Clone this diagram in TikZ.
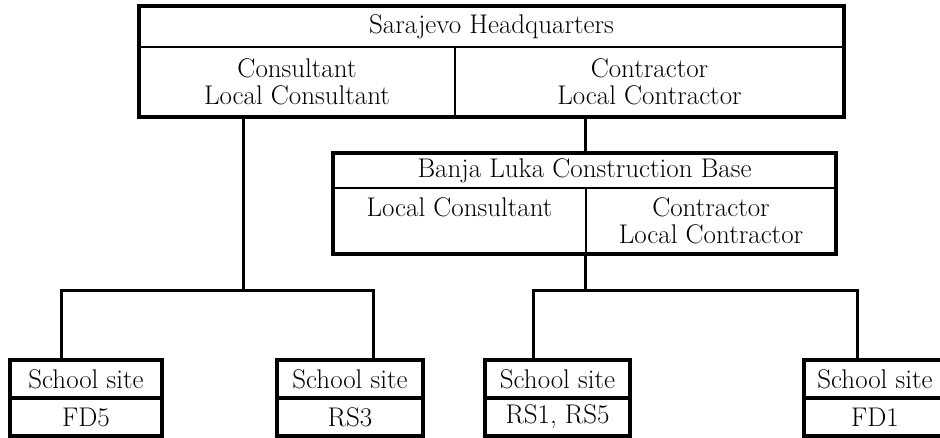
\documentclass[tikz,border=0pt]{standalone}
\usepackage{tikz}
\usetikzlibrary{positioning,calc}

\begin{document}
\begin{tikzpicture}[x=1pt,y=-1pt,
	cell/.style={inner sep=0pt,align=center,font=\fontsize{27}{27}\selectfont},
	rand/.style={line width=4.5pt},
	trenn/.style={line width=2pt},
	link/.style={line width=3pt}]
	\useasboundingbox (0,0) rectangle (940,437);
	% Knoten: Sarajevo
		\node (hq) at (491.5,26.5) [cell,minimum width=705pt,minimum height=41pt] {Sarajevo Headquarters};
		\node (hqcons) at (297,82) [cell,minimum width=316pt,minimum height=70pt] {Consultant\\Local Consultant};
		\node (hqcont) at (649.5,82) [cell,minimum width=389pt,minimum height=70pt] {Contractor\\Local Contractor};
	% Knoten: Banja Luka
		\node (bl) at (584.5,170.5) [cell,minimum width=503pt,minimum height=35pt] {Banja Luka Construction Base};
		\node (blcons) at (459.5,221) [cell,minimum width=253pt,minimum height=66pt] {Local Consultant\\\phantom{Local Contractor}};
		\node (blcont) at (711,221) [cell,minimum width=250pt,minimum height=66pt] {Contractor\\Local Contractor};
	% Knoten: School sites
		\node (s1) at (86,379) [cell,minimum width=152pt,minimum height=38pt] {School site};
		\node (s1n) at (86,417) [cell,minimum width=152pt,minimum height=38pt] {FD5};
		\node (s2) at (350,379) [cell,minimum width=146pt,minimum height=38pt] {School site};
		\node (s2n) at (350,417) [cell,minimum width=146pt,minimum height=38pt] {RS3};
		\node (s3) at (557.5,379) [cell,minimum width=145pt,minimum height=38pt] {School site};
		\node (s3n) at (557.5,417) [cell,minimum width=145pt,minimum height=38pt] {RS1, RS5};
		\node (s4) at (875,379) [cell,minimum width=142pt,minimum height=38pt] {School site};
		\node (s4n) at (875,417) [cell,minimum width=142pt,minimum height=38pt] {FD1};
	% Rahmen
		\draw[rand] (hq.north west) rectangle (hqcont.south east);
		\draw[trenn] (hq.south west) -- (hq.south east);
		\draw[trenn] (hqcons.north east) -- (hqcons.south east);
		\draw[rand] (bl.north west) rectangle (blcont.south east);
		\draw[trenn] (bl.south west) -- (bl.south east);
		\draw[trenn] (blcons.north east) -- (blcons.south east);
		\foreach \s in {s1,s2,s3,s4} {
			\draw[rand] (\s.north west) rectangle (\s n.south east);
			\draw[line width=4pt] (\s.south west) -- (\s.south east);
		}
	% Kanten
		\coordinate (j1) at (243,290);
		\coordinate (j2) at (585,290);
		\draw[link] (j1 |- hqcons.south) -- (j1);
		\draw[link] ([xshift=-25pt]s1.north) |- (j1) -| ([xshift=23pt]s2.north);
		\draw[link] (bl.north -| j2) -- (hqcont.south -| j2);
		\draw[link] (j2 |- blcont.south) -- (j2);
		\draw[link] ([xshift=-24.5pt]s3.north) |- (j2) -| ([xshift=-18pt]s4.north);
	\end{tikzpicture}
\end{document}
